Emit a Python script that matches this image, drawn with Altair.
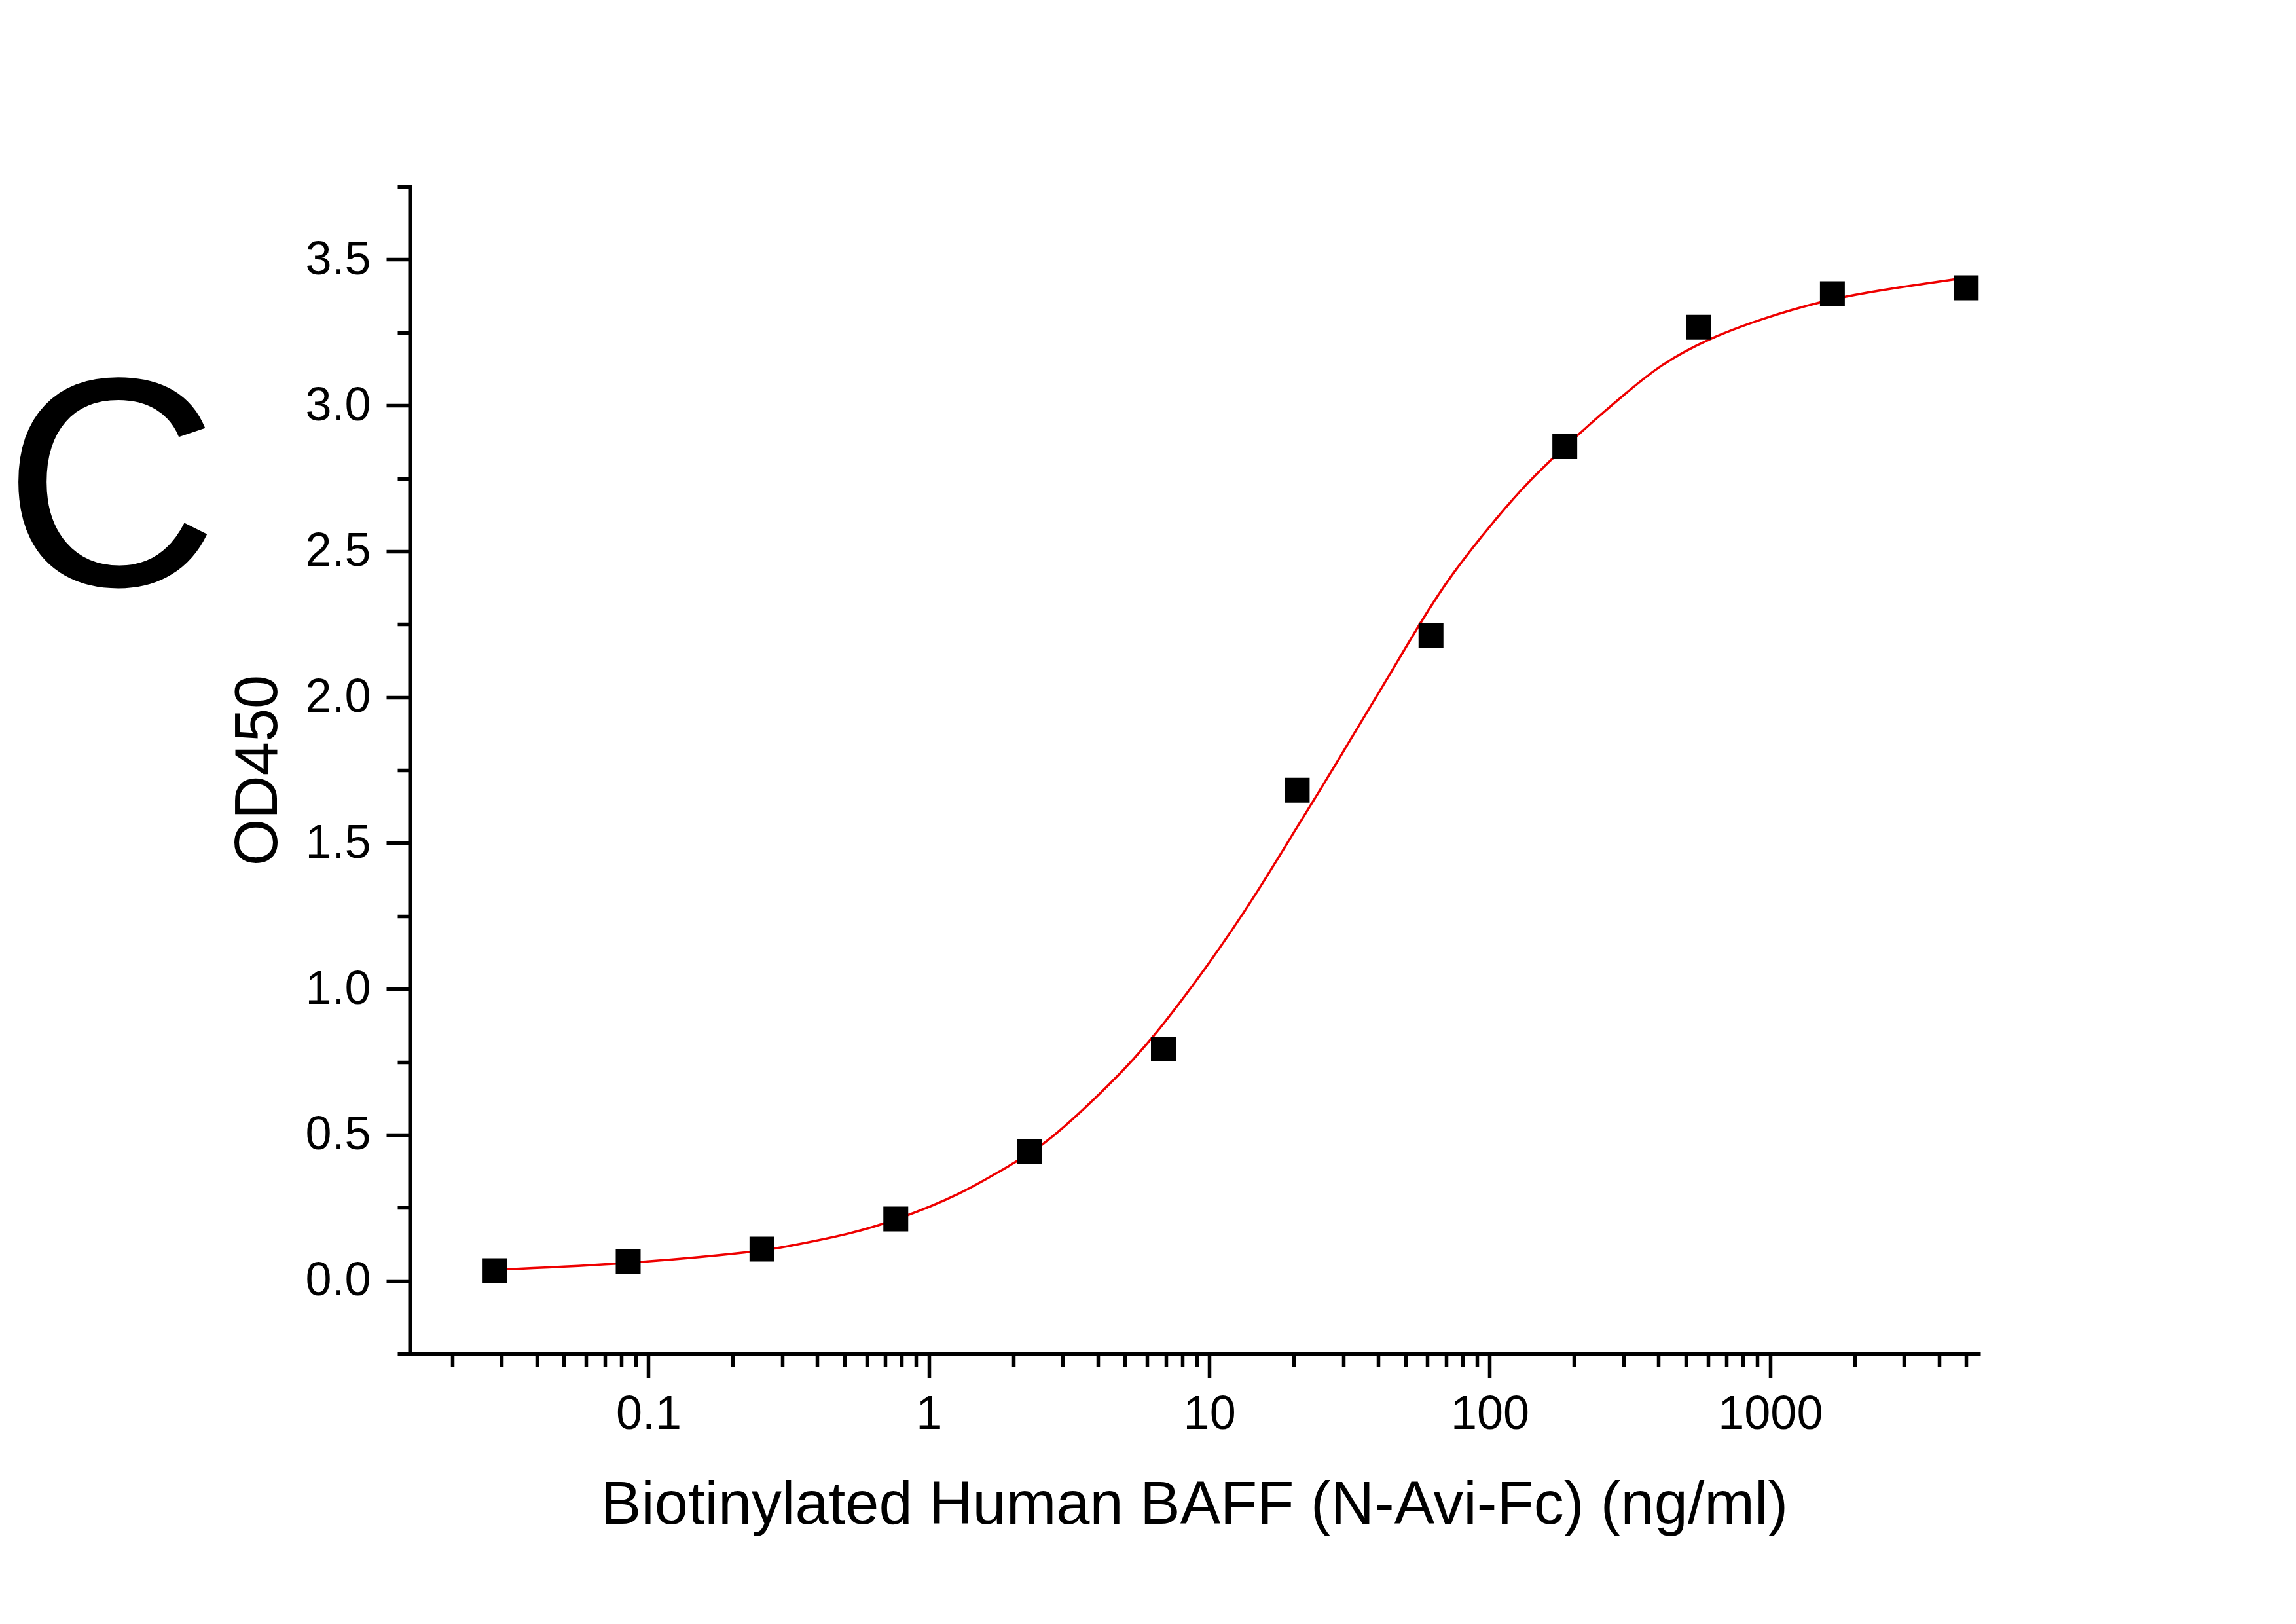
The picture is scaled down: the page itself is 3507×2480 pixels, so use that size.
import altair as alt
import pandas as pd

# ---- data ----
conc = [0.02823, 0.08468, 0.2540, 0.7621, 2.286, 6.859, 20.58, 61.73, 185.2, 555.6, 1666.7, 5000]
od450 = [0.034, 0.065, 0.108, 0.211, 0.443, 0.794, 1.681, 2.212, 2.859, 3.268, 3.383, 3.403]

fit_x = [0.0282, 0.0851, 0.255, 0.308, 0.527, 0.763, 1.29, 2.02, 2.64, 4.53, 6.35, 10.1, 14.5,
         20.7, 24.9, 29.7, 35.3, 42.6, 56.7, 72.9, 104, 136, 178, 233, 300, 405, 604, 931,
         1507, 2438, 5000]
fit_y = [0.037, 0.057, 0.101, 0.116, 0.160, 0.207, 0.293, 0.405, 0.470, 0.681, 0.834, 1.092, 1.315,
         1.560, 1.683, 1.805, 1.926, 2.054, 2.258, 2.421, 2.607, 2.735, 2.843, 2.945, 3.035, 3.140, 3.230, 3.297,
         3.357, 3.395, 3.438]

x_label_values = [0.1, 1, 10, 100, 1000]
x_domain = [0.0141, 5530]
y_domain = [-0.25, 3.75]
y_major = [0.0, 0.5, 1.0, 1.5, 2.0, 2.5, 3.0, 3.5]

x_title = "Biotinylated Human BAFF (N-Avi-Fc) (ng/ml)"
y_title = "OD450"
panel_letter = "C"

# tick positions
decades = [0.01, 0.1, 1, 10, 100, 1000]
x_ticks = []
for d in decades:
    for m in range(1, 10):
        v = round(m * d, 6)
        if x_domain[0] <= v <= x_domain[1]:
            x_ticks.append(v)
y_ticks = [round(-0.25 + 0.25 * i, 2) for i in range(17)]

points = pd.DataFrame({"conc": conc, "od": od450})
fit = pd.DataFrame({"conc": fit_x, "od": fit_y})
letter = pd.DataFrame({"t": [panel_letter]})

FONT = "Liberation Sans, Arial, sans-serif"

x_major_test = "indexof(%s, datum.value) >= 0" % str(x_label_values)
y_major_test = "indexof(%s, datum.value) >= 0" % str(y_major)

x_scale = alt.Scale(type="log", domain=x_domain, nice=False)
y_scale = alt.Scale(domain=y_domain, nice=False, zero=False)

x_axis = alt.Axis(
    title=x_title,
    values=x_ticks,
    labelExpr="%s ? format(datum.value, '~g') : ''" % x_major_test,
    tickSize={"condition": {"test": x_major_test, "value": 37}, "value": 20},
    labelPadding=20,
    labelFlush=False,
    labelOverlap=False,
    labelBound=False,
    grid=False,
    titleX=1198,
    titleY=259,
    titleBaseline="alphabetic",
    titleAlign="center",
)
y_axis = alt.Axis(
    title=y_title,
    values=y_ticks,
    labelExpr="%s ? format(datum.value, '.1f') : ''" % y_major_test,
    tickSize={"condition": {"test": y_major_test, "value": 36}, "value": 19},
    labelPadding=24,
    labelFlush=False,
    labelOverlap=False,
    labelBound=False,
    grid=False,
    titleX=-232,
    titleY=891,
    titleAngle=-90,
    titleBaseline="middle",
    titleAlign="center",
)

line = alt.Chart(fit).mark_line(color="#EE0000", strokeWidth=3.5, interpolate="basis").encode(
    x=alt.X("conc:Q", scale=x_scale, axis=x_axis),
    y=alt.Y("od:Q", scale=y_scale, axis=y_axis),
)
pts = alt.Chart(points).mark_square(size=1444, color="black", filled=True, opacity=1).encode(
    x=alt.X("conc:Q", scale=x_scale),
    y=alt.Y("od:Q", scale=y_scale),
)
txt = alt.Chart(letter).mark_text(
    font=FONT, fontSize=455, align="left", baseline="alphabetic", color="black"
).encode(
    x=alt.value(-621),
    y=alt.value(609),
    text="t:N",
)

chart = alt.layer(line, pts, txt).properties(
    width=2396,
    height=1782,
    padding={"left": 626, "top": 285, "right": 485, "bottom": 413},
    autosize=alt.AutoSizeParams(type="none"),
    background="white",
).configure_view(stroke=None).configure_axis(
    domainColor="black",
    domainWidth=6,
    domainCap="square",
    tickColor="black",
    tickWidth=5.5,
    labelFont=FONT,
    labelFontSize=72,
    labelColor="black",
    titleFont=FONT,
    titleFontSize=92,
    titleFontWeight="normal",
    titleColor="black",
)

chart.save("out.html", embed_options={"renderer": "svg", "actions": False})
